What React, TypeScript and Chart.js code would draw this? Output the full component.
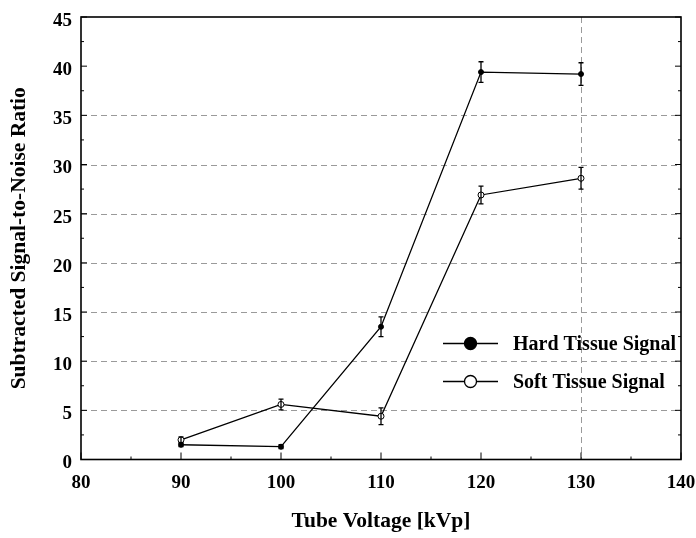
import React, { useEffect, useRef } from "react";
import { Chart, registerables } from "chart.js";

Chart.register(...registerables);

const voltages = [90, 100, 110, 120, 130];
const hardTissue = [1.5, 1.3, 13.5, 39.4, 39.2];
const hardError = [0.2, 0.2, 1.0, 1.05, 1.15];
const softTissue = [2.0, 5.6, 4.4, 26.9, 28.6];
const softError = [0.3, 0.55, 0.85, 0.9, 1.1];
const seriesNames = ["Hard Tissue Signal", "Soft Tissue Signal"];
const yGridValues = [5, 10, 15, 20, 25, 30, 35];
const xGridValues = [130];

const SERIF = '"Liberation Serif", "Times New Roman", Times, serif';

const framePlugin = {
  id: "frame",
  beforeDatasetsDraw(chart: any) {
    const { ctx, chartArea: a, scales } = chart;
    const xs = scales.x;
    const ys = scales.y;
    ctx.save();
    ctx.strokeStyle = "#9a9a9a";
    ctx.lineWidth = 1;
    ctx.setLineDash([6, 4]);
    yGridValues.forEach((v) => {
      const y = Math.round(ys.getPixelForValue(v)) + 0.5;
      ctx.beginPath();
      ctx.moveTo(a.left, y);
      ctx.lineTo(a.right, y);
      ctx.stroke();
    });
    xGridValues.forEach((v) => {
      const x = Math.round(xs.getPixelForValue(v)) + 0.5;
      ctx.beginPath();
      ctx.moveTo(x, a.top);
      ctx.lineTo(x, a.bottom);
      ctx.stroke();
    });
    ctx.setLineDash([]);
    ctx.strokeStyle = "#000";
    ctx.lineWidth = 1;
    for (let v = ys.min; v <= ys.max + 1e-6; v += 2.5) {
      const y = ys.getPixelForValue(v);
      const major = Math.abs(v % 5) < 1e-6;
      const len = major ? 6 : 3;
      ctx.beginPath();
      ctx.moveTo(a.left, y);
      ctx.lineTo(a.left + len, y);
      ctx.moveTo(a.right, y);
      ctx.lineTo(a.right - len, y);
      ctx.stroke();
    }
    for (let v = xs.min; v <= xs.max + 1e-6; v += 5) {
      const x = xs.getPixelForValue(v);
      const major = Math.abs(v % 10) < 1e-6;
      const len = major ? 7 : 3;
      ctx.beginPath();
      ctx.moveTo(x, a.bottom);
      ctx.lineTo(x, a.bottom - len);
      ctx.stroke();
    }
    ctx.lineWidth = 1.6;
    ctx.strokeRect(a.left, a.top, a.right - a.left, a.bottom - a.top);
    ctx.restore();
  },
  afterDatasetsDraw(chart: any) {
    const { ctx, chartArea: a, scales } = chart;
    const xs = scales.x;
    const ys = scales.y;
    const series = [
      { vals: hardTissue, errs: hardError },
      { vals: softTissue, errs: softError },
    ];
    ctx.save();
    ctx.strokeStyle = "#000";
    ctx.lineWidth = 1.3;
    series.forEach((s) => {
      voltages.forEach((xv, i) => {
        const x = xs.getPixelForValue(xv);
        const y1 = ys.getPixelForValue(s.vals[i] + s.errs[i]);
        const y2 = ys.getPixelForValue(s.vals[i] - s.errs[i]);
        ctx.beginPath();
        ctx.moveTo(x, y1);
        ctx.lineTo(x, y2);
        ctx.moveTo(x - 2.5, y1);
        ctx.lineTo(x + 2.5, y1);
        ctx.moveTo(x - 2.5, y2);
        ctx.lineTo(x + 2.5, y2);
        ctx.stroke();
      });
    });
    const lx0 = a.right - 238;
    const lx1 = a.right - 183;
    const mx = (lx0 + lx1) / 2;
    const tx = a.right - 168;
    const rows = [a.bottom - 116, a.bottom - 78];
    ctx.font = `bold 20px ${SERIF}`;
    ctx.textBaseline = "middle";
    ctx.textAlign = "left";
    rows.forEach((ry, i) => {
      ctx.lineWidth = 1.3;
      ctx.strokeStyle = "#000";
      ctx.beginPath();
      ctx.moveTo(lx0, ry);
      ctx.lineTo(lx1, ry);
      ctx.stroke();
      ctx.beginPath();
      ctx.arc(mx, ry, 6, 0, Math.PI * 2);
      ctx.fillStyle = i === 0 ? "#000" : "#fff";
      ctx.fill();
      ctx.stroke();
      ctx.fillStyle = "#000";
      ctx.fillText(seriesNames[i], tx, ry + 1);
    });
    ctx.restore();
  },
};

export default function App() {
  const ref = useRef<HTMLCanvasElement | null>(null);
  useEffect(() => {
    if (!ref.current) return;
    const chart = new Chart(ref.current, {
      type: "line",
      data: {
        datasets: [
          {
            label: seriesNames[0],
            data: voltages.map((x, i) => ({ x, y: hardTissue[i] })),
            borderColor: "#000",
            backgroundColor: "#000",
            borderWidth: 1.3,
            pointRadius: 2.5,
            pointBorderWidth: 1,
            pointBackgroundColor: "#000",
            pointBorderColor: "#000",
            tension: 0,
          },
          {
            label: seriesNames[1],
            data: voltages.map((x, i) => ({ x, y: softTissue[i] })),
            borderColor: "#000",
            backgroundColor: "#fff",
            borderWidth: 1.3,
            pointRadius: 3,
            pointBorderWidth: 1,
            pointBackgroundColor: "#fff",
            pointBorderColor: "#000",
            tension: 0,
          },
        ],
      },
      options: {
        animation: false,
        responsive: false,
        maintainAspectRatio: false,
        devicePixelRatio: 1,
        layout: { padding: { left: 0, right: 15, top: 17, bottom: 0 } },
        plugins: {
          legend: { display: false },
          tooltip: { enabled: false },
        },
        scales: {
          x: {
            type: "linear",
            min: 80,
            max: 140,
            grid: { display: false, drawTicks: false },
            border: { display: false },
            ticks: {
              stepSize: 10,
              padding: 12,
              color: "#000",
              font: { family: SERIF, size: 19, weight: "bold" },
              maxRotation: 0,
            },
            title: {
              display: true,
              text: "Tube Voltage [kVp]",
              color: "#000",
              font: { family: SERIF, size: 21.5, weight: "bold" },
              padding: { top: 0, bottom: 4 },
            },
            afterFit(scale: any) {
              scale.height = 78.5;
              scale.paddingRight = 0;
              scale.paddingLeft = 0;
            },
          },
          y: {
            type: "linear",
            min: 0,
            max: 45,
            grid: { display: false, drawTicks: false },
            border: { display: false },
            ticks: {
              stepSize: 5,
              padding: 9,
              labelOffset: 4,
              color: "#000",
              font: { family: SERIF, size: 19, weight: "bold" },
            },
            title: {
              display: true,
              text: "Subtracted Signal-to-Noise Ratio",
              color: "#000",
              font: { family: SERIF, size: 21.5, weight: "bold" },
              padding: { top: 7, bottom: 0 },
            },
            afterFit(scale: any) {
              scale.width = 81;
              scale.paddingTop = 0;
              scale.paddingBottom = 0;
            },
          },
        },
      },
      plugins: [framePlugin],
    } as any);
    return () => chart.destroy();
  }, []);
  return (
    <div style={{ position: "absolute", left: 0, top: 0, width: 696, height: 538, background: "#fff" }}>
      <canvas ref={ref} width={696} height={538} style={{ width: 696, height: 538 }} />
    </div>
  );
}
